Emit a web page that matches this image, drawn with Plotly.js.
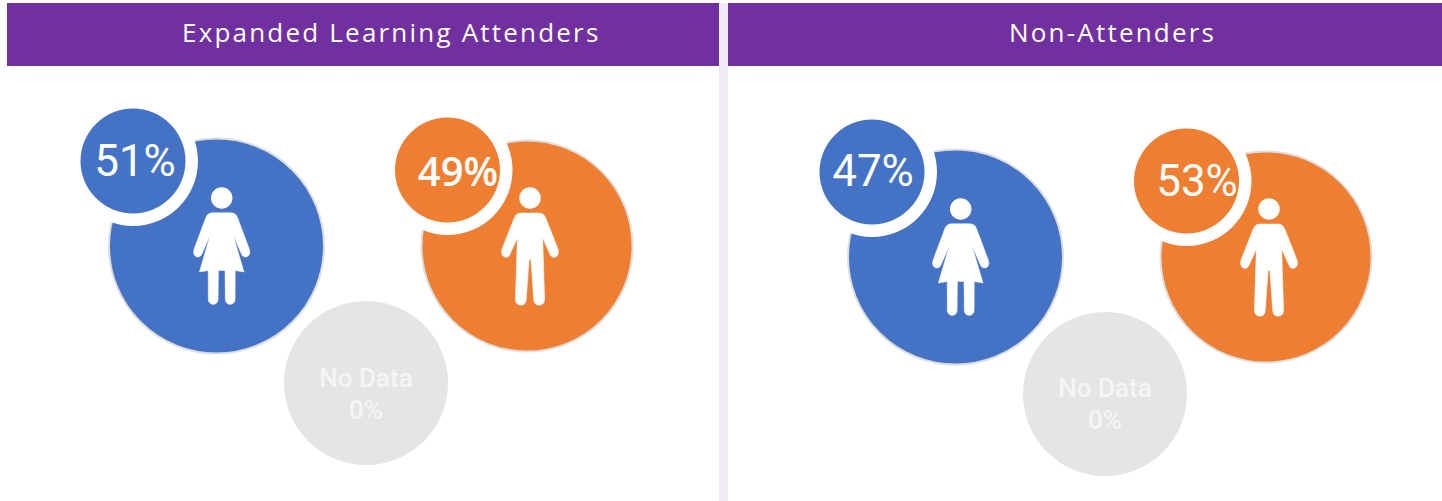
<!DOCTYPE html>
<html><head><meta charset="utf-8">
<script src="https://cdn.plot.ly/plotly-3.0.1.min.js"></script>
<style>html,body{margin:0;padding:0;background:#fff;overflow:hidden}
.annotation-text{letter-spacing:2.2px}
</style></head><body><div id="chart" style="width:1442px;height:501px"></div>
<script>
// --- data ---
const panelTitles = ["Expanded Learning Attenders", "Non-Attenders"];
const femalePct = [51, 47];
const malePct = [49, 53];
const noDataPct = [0, 0];
const noDataLabel = "No Data";
const titleX = [391.5, 1112];
const titleY = [32, 32];

// layout of the bubbles
const bigX = [216.5, 527, 955.5, 1266];
const bigY = [246, 246, 257, 257];
const bigSize = [215, 211, 215, 211];
const bigColor = ["#4472c4", "#ee7e32", "#4472c4", "#ee7e32"];
const badgeX = [133, 447.5, 872, 1186.5];
const badgeY = [161, 170, 172, 181];
const badgeSize = [105, 105, 105, 105];
const pctX = [135, 458, 873, 1197];
const pctY = [165, 176, 175, 185];
const pctFont = ["Roboto", "Open Sans", "Roboto", "Roboto"];
const pctSize = [44, 40, 44, 44];
const pctWeight = [400, 600, 400, 400];
const greyX = [366, 1105];
const greyY = [383, 394];
const noDataLabelY = [380, 390];
const zeroLabelY = [412, 422];
const headX = [221.7, 530, 960.7, 1269];
const headY = [198, 198, 209, 209];

// icon outlines (right half, px offset from head centre; mirrored for the left)
const femaleBody = [[0,14.7],[9,14.7],[12,15.3],[14.5,17],[16,20],[27.6,51],[28.2,54],[27.5,57],[25.5,58.8],[23,59],[20.8,57.8],[19.5,55.5],[11.5,37],[22.3,74],[13.5,72.5],[13.4,101.5],[12.8,104],[11,105.8],[8.5,106.5],[6,105.8],[4.2,104],[3.6,101.5],[3.3,72.5],[0,72.5]];
const maleBody = [[0,15],[9,15],[12,15.6],[14.5,17.5],[16,20.5],[28,51],[28.6,54],[27.8,57],[25.8,59],[23.2,59.4],[21,58],[19.6,55.5],[12.7,40],[14.6,101],[14,104.5],[12,106.6],[9,107.3],[6,106.4],[4.2,104],[3.7,101],[0.9,62],[0,61]];

function bodyPath(pts,cx,cy){
  const f=(p,s)=>(cx+s*p[0])+","+(cy+p[1]);
  let d="M"+f(pts[0],1);
  for(let i=1;i<pts.length;i++) d+=" L"+f(pts[i],1);
  for(let i=pts.length-2;i>=0;i--) d+=" L"+f(pts[i],-1);
  return d+" Z";
}

const shapes=[
 {type:"rect",xref:"x",yref:"y",x0:7,x1:719,y0:3,y1:66,fillcolor:"#7030a0",line:{width:0},layer:"below"},
 {type:"rect",xref:"x",yref:"y",x0:728,x1:1442,y0:3,y1:66,fillcolor:"#7030a0",line:{width:0},layer:"below"},
 {type:"rect",xref:"x",yref:"y",x0:719,x1:728,y0:3,y1:501,fillcolor:"#f0eaf6",line:{width:0},layer:"below"},
];
[0,2].forEach(i=>shapes.push({type:"path",xref:"x",yref:"y",path:bodyPath(femaleBody,headX[i],headY[i]),fillcolor:"#fff",line:{color:"#fff",width:0.5},layer:"above"}));
[1,3].forEach(i=>shapes.push({type:"path",xref:"x",yref:"y",path:bodyPath(maleBody,headX[i],headY[i]),fillcolor:"#fff",line:{color:"#fff",width:0.5},layer:"above"}));

const pctVals=[femalePct[0],malePct[0],femalePct[1],malePct[1]];
const traces=[
 {x:greyX,y:greyY,mode:"markers",marker:{size:164,color:"#e5e5e5",opacity:1,line:{width:0}}},
 {x:bigX,y:bigY,mode:"markers",marker:{size:bigSize,color:bigColor,opacity:1,line:{color:"#dedede",width:2}}},
 {x:badgeX,y:badgeY,mode:"markers",marker:{size:130,color:"#ffffff",opacity:1,line:{width:0}}},
 {x:badgeX,y:badgeY,mode:"markers",marker:{size:badgeSize,color:bigColor,opacity:1,line:{width:0}}},
 {x:headX,y:headY,mode:"markers",marker:{size:21.5,color:"#ffffff",opacity:1,line:{width:0}}},
];
pctVals.forEach((v,i)=>traces.push({x:[pctX[i]],y:[pctY[i]],mode:"text",text:[v+"%"],textposition:"middle center",textfont:{family:pctFont[i],size:pctSize[i],color:"#fff",weight:pctWeight[i]}}));
traces.push({x:greyX,y:noDataLabelY,mode:"text",text:[noDataLabel,noDataLabel],textposition:"middle center",textfont:{family:"Roboto",size:26,color:"#f5f5f5",weight:500}});
traces.push({x:greyX,y:zeroLabelY,mode:"text",text:noDataPct.map(v=>v+"%"),textposition:"middle center",textfont:{family:"Roboto",size:26,color:"#f5f5f5",weight:500}});

const annotations=panelTitles.map((t,i)=>({x:titleX[i],y:titleY[i],xref:"x",yref:"y",text:t,showarrow:false,xanchor:"center",yanchor:"middle",font:{family:"Open Sans",size:26,color:"#fff"}}));

Plotly.newPlot("chart",traces,{
 width:1442,height:501,margin:{l:0,r:0,t:0,b:0},showlegend:false,
 paper_bgcolor:"#fff",plot_bgcolor:"#fff",
 xaxis:{range:[0,1442],visible:false,fixedrange:true},
 yaxis:{range:[501,0],visible:false,fixedrange:true},
 shapes,annotations
},{displayModeBar:false,staticPlot:true});
</script></body></html>
